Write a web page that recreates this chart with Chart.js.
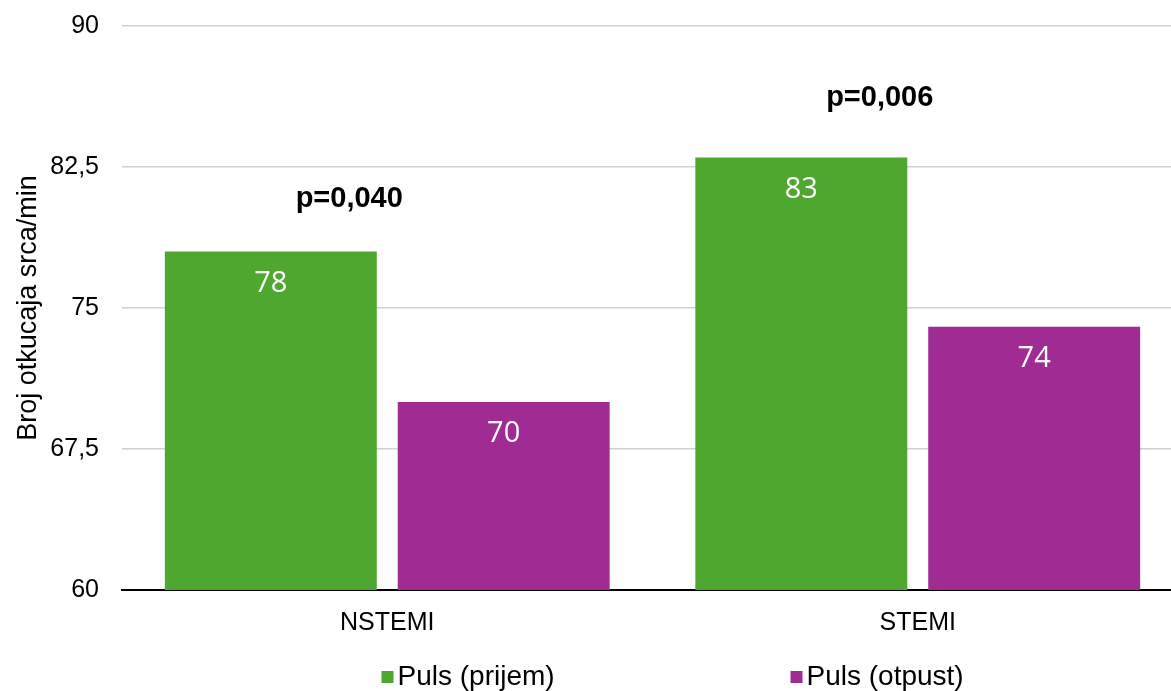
<!DOCTYPE html>
<html><head><meta charset="utf-8">
<script src="https://cdn.jsdelivr.net/npm/chart.js@4"></script>
<style>html,body{margin:0;padding:0;background:#fff;overflow:hidden;width:1171px;height:691px}</style>
</head><body>
<canvas id="c" width="1183" height="691"></canvas>
<script>
const categories = ['NSTEMI', 'STEMI'];
const seriesNames = ['Puls (prijem)', 'Puls (otpust)'];
const pulsPrijem = [78, 83];
const pulsOtpust = [70, 74];
const pValues = ['p=0,040', 'p=0,006'];
const yTickValues = [60, 67.5, 75, 82.5, 90];
const yTickLabels = ['60', '67,5', '75', '82,5', '90'];
const yAxisTitle = 'Broj otkucaja srca/min';
const seriesColors = ['#4EA72E', '#A02B93'];

const annotPlugin = {
  id: 'annot',
  afterDatasetsDraw(chart, args, opts) {
    const ctx = chart.ctx;
    ctx.save();
    ctx.textAlign = 'center';
    ctx.textBaseline = 'middle';
    chart.data.datasets.forEach((ds, di) => {
      const meta = chart.getDatasetMeta(di);
      meta.data.forEach((bar, i) => {
        ctx.fillStyle = '#ffffff';
        ctx.font = '29px "Open Sans"';
        ctx.fillText(String(ds.data[i]), bar.x, bar.y + 32);
      });
    });
    const xs = chart.scales.x;
    categories.forEach((c, i) => {
      const tops = chart.data.datasets.map((ds, di) => chart.getDatasetMeta(di).data[i].y);
      const top = Math.min(...tops);
      ctx.fillStyle = '#000000';
      ctx.font = 'bold 29px "Liberation Sans"';
      ctx.fillText(pValues[i], xs.getPixelForValue(i) + opts.pDx, top - opts.pDy[i]);
    });
    // legend
    const ca = chart.chartArea;
    const cx = (ca.left + ca.right) / 2;
    const offs = [-271, 138];
    ctx.textAlign = 'left';
    ctx.font = '28px "Liberation Sans"';
    seriesNames.forEach((n, i) => {
      const x = cx + offs[i];
      const y = 677;
      ctx.fillStyle = seriesColors[i];
      ctx.fillRect(x, y - 6, 12, 12);
      ctx.fillStyle = '#000000';
      ctx.fillText(n, x + 16, y);
    });
    ctx.restore();
  }
};

new Chart(document.getElementById('c'), {
  type: 'bar',
  data: {
    labels: categories,
    datasets: [
      { label: seriesNames[0], data: pulsPrijem, backgroundColor: seriesColors[0] },
      { label: seriesNames[1], data: pulsOtpust, backgroundColor: seriesColors[1] }
    ]
  },
  options: {
    responsive: false,
    animation: false,
    devicePixelRatio: 1,
    categoryPercentage: 0.878,
    barPercentage: 0.91,
    layout: { padding: { top: 26, right: 0, bottom: 0, left: 0 } },
    plugins: {
      legend: { display: false },
      tooltip: { enabled: false },
      annot: { pDx: -38, pDy: [53, 60] }
    },
    scales: {
      x: {
        grid: { display: false },
        border: { display: true, color: '#000000', width: 2 },
        ticks: { color: '#000000', font: { family: 'Liberation Sans', size: 25 }, padding: 10 },
        afterFit(s) { s.height = 101; }
      },
      y: {
        min: 60, max: 90,
        afterBuildTicks(s) { s.ticks = yTickValues.map(v => ({ value: v })); },
        grid: { color: '#D0D0D0', lineWidth: 1.5, drawTicks: false },
        border: { display: false },
        ticks: {
          color: '#000000', padding: 23,
          font: { family: 'Liberation Sans', size: 25 },
          callback: (v) => { const k = yTickValues.indexOf(v); return k >= 0 ? yTickLabels[k] : ''; }
        },
        title: { display: true, text: yAxisTitle, color: '#000000', font: { family: 'Liberation Sans', size: 27 }, padding: { top: 12, bottom: 0 } },
        afterFit(s) { s.width = 122; s.paddingTop = 0; s.paddingBottom = 0; }
      }
    }
  },
  plugins: [annotPlugin]
});
</script>
</body></html>
